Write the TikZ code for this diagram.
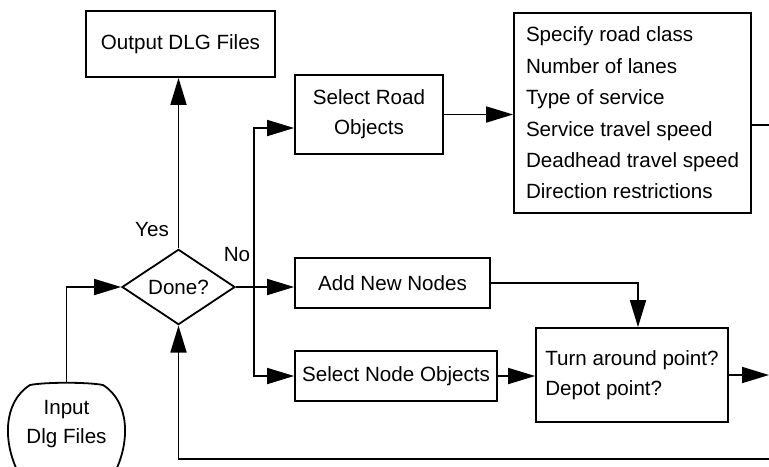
\documentclass[tikz,border=0pt]{standalone}
\usepackage{fontspec}
\setmainfont{Liberation Sans}
\usetikzlibrary{arrows.meta,shapes.geometric,calc}

\begin{document}
\begin{tikzpicture}[x=0.5pt,y=-0.5pt,line width=0.9pt,
    font=\fontsize{10.3}{15}\selectfont,
    box/.style={draw,rectangle,align=center,inner sep=0pt},
    arr/.style={-{Triangle[length=13.5pt,width=8pt]}}]
    \useasboundingbox (0,0) rectangle (769,466);
    \clip (0,0) rectangle (769,466);
    % 绘制方框
    \node[box,minimum width=94.5pt,minimum height=33pt] (out) at (180.5,44) {Output DLG Files};
    \node[box,minimum width=74pt,minimum height=39.5pt] (road) at (369,114.5) {Select Road\\Objects};
    \node[box,align=left,minimum width=118.5pt,minimum height=100pt,
        font=\fontsize{10.3}{15.7}\selectfont] (spec) at (632.5,113)
        {Specify road class\\Number of lanes\\Type of service\\Service travel speed\\Deadhead travel speed\\Direction restrictions};
    \node[draw,diamond,inner sep=0pt,minimum width=56.5pt,minimum height=34pt] (done) at (178.5,287) {Done?};
    \node[box,minimum width=97.5pt,minimum height=25pt] (add) at (392.5,283) {Add New Nodes};
    \node[box,minimum width=101pt,minimum height=25pt] (sel) at (396,376) {Select Node Objects};
    \node[box,align=left,minimum width=96pt,minimum height=47pt] (turn) at (632,375)
        {Turn around point?\\Depot point?};
    % 输入文件
    \node[align=center,font=\fontsize{10.3}{14.5}\selectfont] (inp) at (66.5,424.5) {Input\\Dlg Files};
    \draw (18,472) .. controls (3,442) and (3,402) .. (30,385)
        .. controls (45,382) and (88,382) .. (103,385)
        .. controls (130,402) and (130,442) .. (115,472);
    \coordinate (inptop) at (66.5,383);
    \coordinate (br) at (254,287);
    \coordinate (specout) at (790,125);
    \coordinate (turnout) at (769,375);
    \coordinate (back) at (790,459);
    % 连线
    \draw[arr] (inptop) |- (done.west);
    \draw[arr] (done.north) -- (done.north |- out.south);
    \draw[arr] (done.east) -- (done.east -| add.west);
    \draw[arr] (br) |- ($(road.west)+(0,13.5)$);
    \draw[arr] (br) |- (sel.west);
    \draw[arr] (road.east) -- (road.east -| spec.west);
    \draw ($(spec.east)+(0,12)$) -- (specout);
    \draw[arr] (add.east) -| ($(turn.north)+(6,0)$);
    \draw[arr] (sel.east) -- (sel.east -| turn.west);
    \draw[arr] (turn.east) -- (turnout);
    \draw[arr] (back) -| (done.south);
    % 标注
    \node (yes) at (152,230) {Yes};
    \node (no) at (237,255) {No};
\end{tikzpicture}
\end{document}
